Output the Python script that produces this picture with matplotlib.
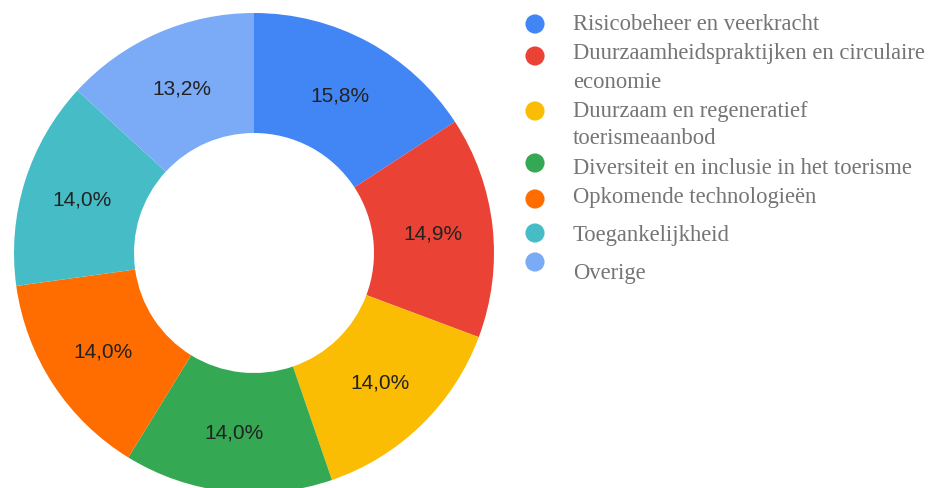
import matplotlib.pyplot as plt

labels = [
    "Risicobeheer en veerkracht",
    "Duurzaamheidspraktijken en circulaire\neconomie",
    "Duurzaam en regeneratief\ntoerismeaanbod",
    "Diversiteit en inclusie in het toerisme",
    "Opkomende technologieën",
    "Toegankelijkheid",
    "Overige",
]
counts = [18, 17, 16, 16, 16, 16, 15]
colors = ["#4285F4", "#EA4335", "#FBBC04", "#34A853", "#FF6D01", "#46BDC6", "#7BAAF7"]

# legend layout in pixels (from top-left)
marker_y = [25, 57, 112, 164, 200, 234, 263]
text_y = [25, 54, 111, 169, 198, 235, 273]
line_gap = 28

W, H = 942, 489
fig = plt.figure(figsize=(W / 100, H / 100), dpi=100)

cx, cy, r = 254, 254, 240
ax = fig.add_axes([(cx - r) / W, (H - cy - r) / H, 2 * r / W, 2 * r / H])
wedges, texts, autotexts = ax.pie(
    counts,
    colors=colors,
    startangle=90,
    counterclock=False,
    autopct=lambda p: f"{p:.1f}%".replace(".", ","),
    pctdistance=0.75,
    wedgeprops=dict(width=0.5, linewidth=0),
    textprops=dict(fontsize=15, color="#222222", family="Liberation Sans"),
)
for w in wedges:
    w.set_clip_on(False)
ax.set_xlim(-1, 1)
ax.set_ylim(-1, 1)
ax.axis("off")

lax = fig.add_axes([0, 0, 1, 1])
lax.set_xlim(0, W)
lax.set_ylim(H, 0)
lax.axis("off")
for lab, c, my, ty in zip(labels, colors, marker_y, text_y):
    lax.scatter([535], [my], s=190, color=c, edgecolors="none")
    for i, line in enumerate(lab.split("\n")):
        lax.text(573, ty + i * line_gap, line, fontsize=16.3, family="Liberation Serif",
                 color="#757575", va="center")

fig.savefig("out.png", dpi=100)
